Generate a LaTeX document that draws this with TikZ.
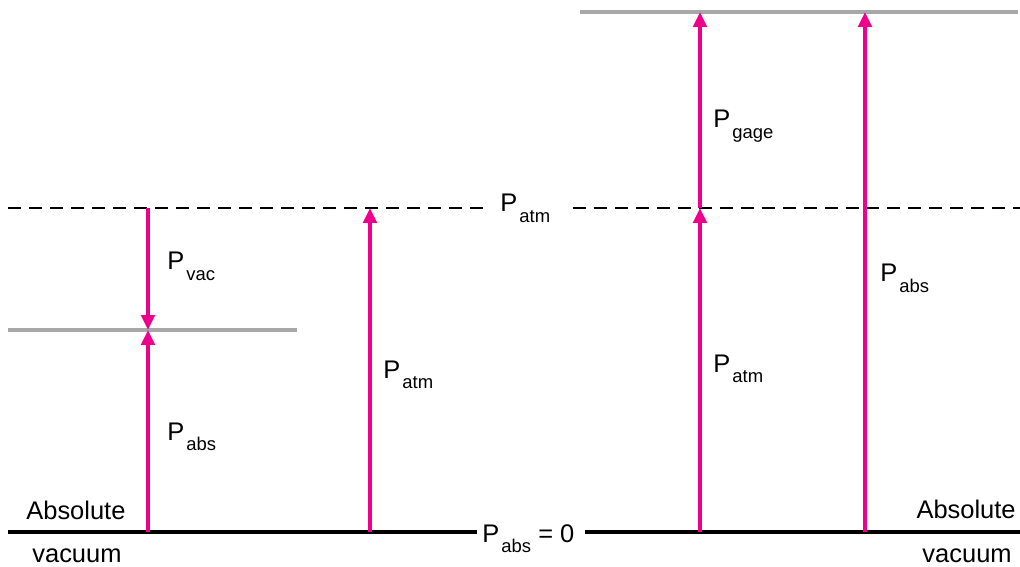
\documentclass[tikz,border=0pt]{standalone}
\usepackage{fontspec}
\setmainfont{Liberation Sans}
\usetikzlibrary{arrows.meta}
\definecolor{pmagenta}{RGB}{236, 0, 140}
\definecolor{lvlgray}{RGB}{168, 168, 168}
\newcommand{\pres}[1]{P\kern1.2pt\raisebox{-0.4em}{\fontsize{10.5}{12}\selectfont #1}}

\begin{document}
\begin{tikzpicture}[
        x=0.02cm, y=-0.02cm,
        lbl/.style={anchor=base west, inner sep=0pt, font=\fontsize{14.5}{17}\selectfont},
        gap/.style={lbl, inner sep=0.1cm},
        level/.style={lvlgray, line width=0.07cm},
        ground/.style={black, line width=0.08cm},
        atmline/.style={black, line width=0.04cm, dash pattern=on 0.26cm off 0.16cm},
        pressure/.style={pmagenta, line width=0.08cm, -{Triangle[length=0.3cm, width=0.27cm]}}
      ]
        \useasboundingbox (0,0) rectangle (1020,567);
        % levels
        \coordinate (zeroL) at (8,532);
        \coordinate (zeroR) at (1020,532);
        \coordinate (atmL) at (8,208);
        \coordinate (atmR) at (1020,208);
        \coordinate (vacL) at (8,330);
        \coordinate (vacR) at (297,330);
        \coordinate (topL) at (580,12);
        \coordinate (topR) at (1018,12);
        \node[gap, inner xsep=0.1cm, anchor=base west] (zero) at (477,542) {\pres{abs} = 0\kern0.1cm};
        \node[gap, inner xsep=0.34cm, anchor=base west] (atm) at (483,212) {\pres{atm}\kern0.1cm};
        \draw[ground] (zeroL) -- (zeroL -| zero.west);
        \draw[ground] (zeroR -| zero.east) -- (zeroR);
        \draw[atmline] (atmL) -- (atmL -| atm.west);
        \draw[atmline] (atmR -| atm.east) -- (atmR);
        \draw[level] (vacL) -- (vacR);
        \draw[level] (topL) -- (topR);
        % arrow ends
        \coordinate (a0) at (148,532);
        \coordinate (a1) at (148,330);
        \coordinate (a2) at (148,208);
        \coordinate (b0) at (370,532);
        \coordinate (b1) at (370,208);
        \coordinate (c0) at (700,532);
        \coordinate (c1) at (700,208);
        \coordinate (c2) at (700,12);
        \coordinate (d0) at (865,532);
        \coordinate (d1) at (865,12);
        \draw[pressure] (a2) -- (a1);
        \draw[pressure] (a0) -- (a1);
        \draw[pressure] (b0) -- (b1);
        \draw[pressure] (c0) -- (c1);
        \draw[pressure] (c1) -- (c2);
        \draw[pressure] (d0) -- (d1);
        % labels
        \node[lbl] (pvac) at (167,270) {\pres{vac}};
        \node[lbl] (pabsL) at (167,440) {\pres{abs}};
        \node[lbl] (patmM) at (383,378) {\pres{atm}};
        \node[lbl] (pgage) at (713,128) {\pres{gage}};
        \node[lbl] (patmR) at (713,372) {\pres{atm}};
        \node[lbl] (pabsR) at (880,282) {\pres{abs}};
        \node[lbl] (absL) at (26,519) {Absolute};
        \node[lbl] (vacuumL) at (32,562) {vacuum};
        \node[lbl, anchor=base east] (absR) at (1016,518) {Absolute};
        \node[lbl, anchor=base east] (vacuumR) at (1012,562) {vacuum};
      \end{tikzpicture}
\end{document}
